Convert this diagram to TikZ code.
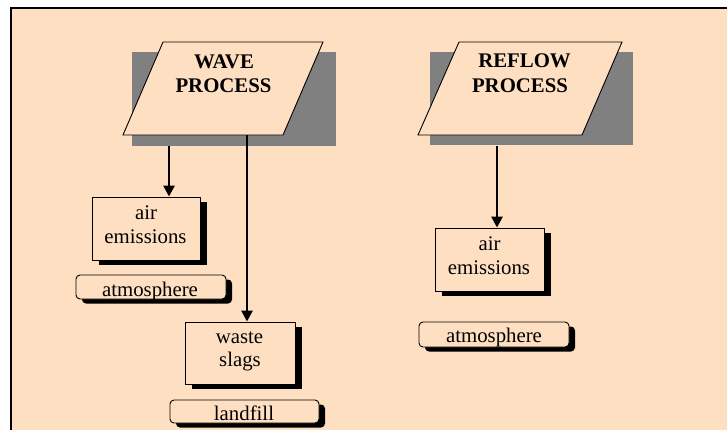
\documentclass[tikz,border=0pt]{standalone}
\usepackage{fontspec}
\setmainfont{Liberation Serif}
\usetikzlibrary{arrows.meta,shadows}
\definecolor{peach}{RGB}{255,223,193}
\definecolor{shade}{RGB}{128,128,128}
\begin{document}
\begin{tikzpicture}[x=1pt,y=-1pt,
  box/.style={draw, line width=0.9pt, fill=peach, inner sep=0pt,
    drop shadow={shadow xshift=7pt, shadow yshift=-4.5pt, fill=black, opacity=1}},
  tagbox/.style={draw, line width=0.9pt, fill=peach, inner sep=0pt, rounded corners=4pt,
    drop shadow={shadow xshift=6pt, shadow yshift=-4.5pt, fill=black, opacity=1, rounded corners=4pt}},
  graybox/.style={fill=shade, inner sep=0pt, draw=none},
  para/.style={draw, line width=0.9pt, fill=peach},
  txt/.style={font=\fontsize{20.8}{24}\selectfont, anchor=base, inner sep=0pt, text=black},
  btxt/.style={font=\fontsize{20.8}{24}\selectfont\bfseries, anchor=base, inner sep=0pt, text=black},
  arr/.style={line width=2.6pt, -{Triangle[length=11pt,width=11pt]}}
]
\useasboundingbox (0,0) rectangle (727,429);
\clip (0,0) rectangle (727,429);
\fill[white] (0,0) rectangle (727,429);
\draw[line width=2pt, fill=peach] (11,7.5) rectangle (760,460);

% gray shadow blocks
\node[graybox, minimum width=204pt, minimum height=94pt] (wg) at (234,99) {};
\node[graybox, minimum width=203pt, minimum height=93pt] (rg) at (531.5,98.5) {};

% arrows starting under the process blocks
\coordinate (wl) at (169,146);
\coordinate (rr) at (497,145.5);

% boxes
\node[box, minimum width=108pt, minimum height=63pt] (ae1) at (146,228.5) {};
\node[box, minimum width=110pt, minimum height=62pt] (ws) at (240,353) {};
\node[box, minimum width=109pt, minimum height=63pt] (ae2) at (489.5,259.5) {};
\node[tagbox, minimum width=150pt, minimum height=24pt] (at1) at (151,287) {};
\node[tagbox, minimum width=149pt, minimum height=23pt] (lf) at (244.5,411.5) {};
\node[tagbox, minimum width=150pt, minimum height=25pt] (at2) at (494,334.5) {};

\draw[arr] (wl) -- (wl |- ae1.north);
\draw[arr] (rr) -- (rr |- ae2.north);

% parallelograms
\draw[para] (163,42) coordinate (w1) -- (323,42) -- (283,135) -- (123,135) -- cycle;
\draw[para] (459,42) coordinate (r1) -- (622,42) -- (582,135) -- (418,135) -- cycle;

\coordinate (wr) at (247,135);
\draw[arr] (wr) -- (wr |- ws.north);

% texts
\node[btxt] (wt1) at (224,68) {WAVE};
\node[btxt] (wt2) at (223.5,92) {PROCESS};
\node[btxt] (rt1) at (524.5,67) {REFLOW};
\node[btxt] (rt2) at (520,92) {PROCESS};

\node[txt] (ae1a) at (146,219) {air};
\node[txt] (ae1b) at (145.5,243) {emissions};
\node[txt] (at1t) at (150,296.5) {atmosphere};
\node[txt] (ws1) at (239.5,343) {waste};
\node[txt] (ws2) at (240,366.5) {slags};
\node[txt] (lft) at (244,420.5) {landfill};
\node[txt] (ae2a) at (489.5,250) {air};
\node[txt] (ae2b) at (489,274) {emissions};
\node[txt] (at2t) at (494,342.5) {atmosphere};
\end{tikzpicture}
\end{document}
